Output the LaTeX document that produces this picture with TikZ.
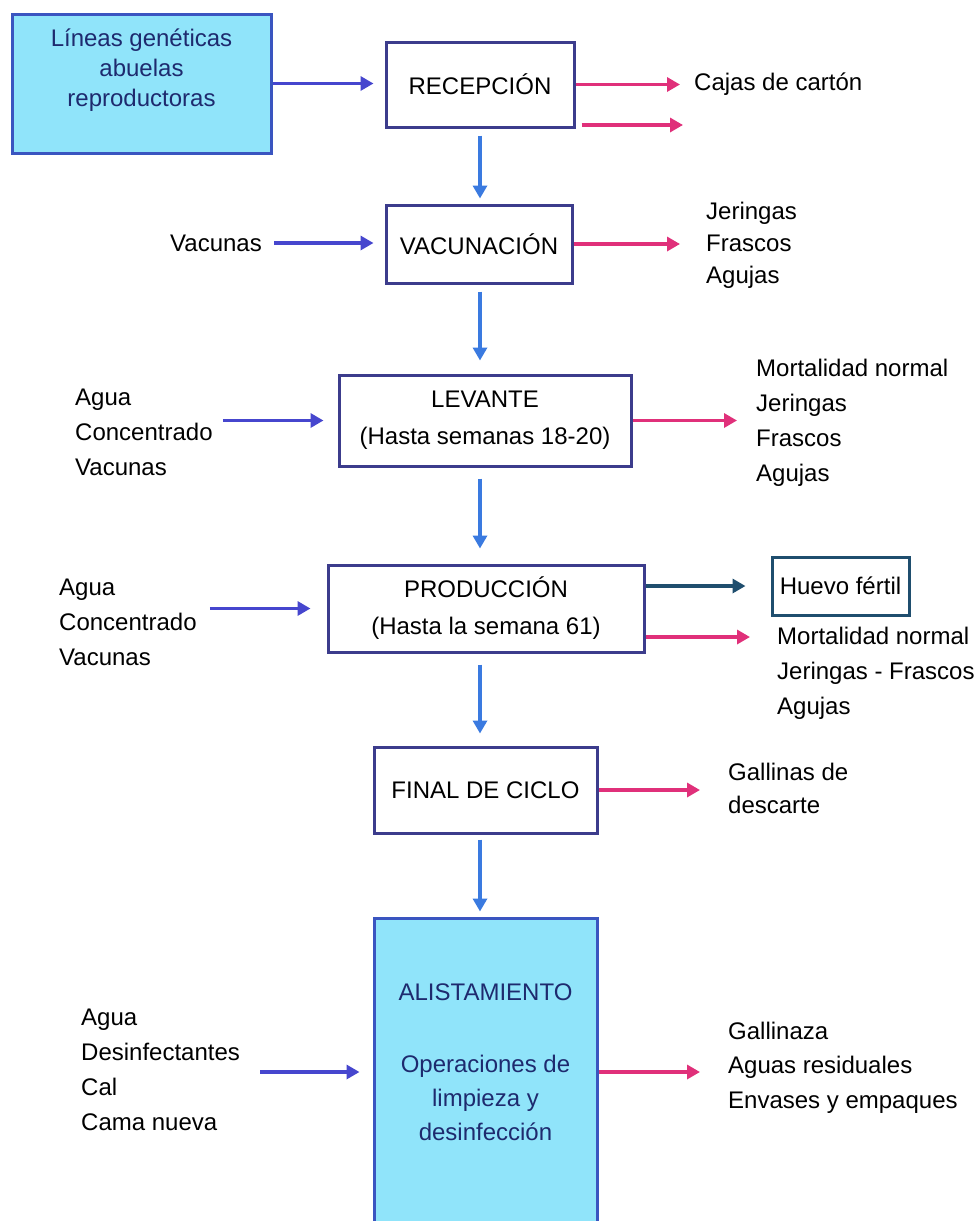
\documentclass[tikz,border=0pt]{standalone}
\usepackage{fontspec}
\setmainfont{Liberation Sans}
\usetikzlibrary{arrows.meta}

\definecolor{cyanfill}{HTML}{90E4FA}
\definecolor{boxline}{HTML}{3C3C8C}
\definecolor{cyanline}{HTML}{3A55C0}
\definecolor{inblue}{HTML}{4646CE}
\definecolor{outpink}{HTML}{E0307A}
\definecolor{downblue}{HTML}{3A7AE0}
\definecolor{eggteal}{HTML}{1F4E6E}
\definecolor{navytext}{HTML}{1E2A6E}

\begin{document}
\begin{tikzpicture}[x=1pt,y=-1pt,
  stepbox/.style={draw=boxline, line width=3pt, fill=white, inner sep=0pt,
    align=center, text=black, font=\fontsize{24}{37}\selectfont},
  cyanbox/.style={draw=cyanline, line width=3pt, fill=cyanfill, inner sep=0pt},
  boxtext/.style={inner sep=0pt, align=center, text=navytext},
  lbl/.style={inner sep=0pt, align=left, anchor=west, text=black,
    font=\fontsize{24}{35}\selectfont},
  tip/.style={-{Triangle[length=13pt,width=14pt]}},
  inarr/.style={tip, draw=inblue, line width=3.4pt},
  outarr/.style={tip, draw=outpink, line width=3.4pt},
  downarr/.style={tip, draw=downblue, line width=3.4pt},
  eggarr/.style={tip, draw=eggteal, line width=3.4pt}]

% page frame
\fill[white] (0,0) rectangle (979,1221);
\useasboundingbox (0,0) rectangle (979,1221);

% process boxes
\node[cyanbox, minimum width=259pt, minimum height=139pt] (lin) at (141.5,83.5) {};
\node[boxtext, font=\fontsize{24}{30}\selectfont] (lintext) at (141.5,70) {Líneas genéticas\\abuelas\\reproductoras};

\node[stepbox, minimum width=188pt, minimum height=85pt] (rec) at (480,84.5) {RECEPCIÓN};
\node[stepbox, minimum width=186pt, minimum height=78pt] (vac) at (479,244) {VACUNACIÓN};
\node[stepbox, minimum width=292pt, minimum height=91pt] (lev) at (485,420.5) {LEVANTE\\(Hasta semanas 18-20)};
\node[stepbox, minimum width=316pt, minimum height=87pt] (pro) at (486,608.5) {PRODUCCIÓN\\(Hasta la semana 61)};
\node[stepbox, minimum width=223pt, minimum height=86pt] (fin) at (485.5,790) {FINAL DE CICLO};
\node[stepbox, draw=eggteal, minimum width=137pt, minimum height=58pt] (egg) at (840.5,586) {Huevo fértil};

\node[cyanbox, minimum width=223pt, minimum height=308pt] (ali) at (485.5,1072) {};
\node[boxtext, font=\fontsize{24}{34}\selectfont] (alitext) at (485.5,1062)
  {ALISTAMIENTO\\[38pt]Operaciones de\\limpieza y\\desinfección};

% inputs and outputs
\node[lbl] (vacin) at (170,243) {Vacunas};
\node[lbl] (recout) at (694,84) {Cajas de cartón};
\node[lbl, font=\fontsize{24}{32}\selectfont] (vacout) at (706,245) {Jeringas\\Frascos\\Agujas};
\node[lbl] (levin) at (75,432) {Agua\\Concentrado\\Vacunas};
\node[lbl] (levout) at (756,422.5) {Mortalidad normal\\Jeringas\\Frascos\\Agujas};
\node[lbl] (proin) at (59,622) {Agua\\Concentrado\\Vacunas};
\node[lbl] (proout) at (777,673) {Mortalidad normal\\Jeringas - Frascos\\Agujas};
\node[lbl, font=\fontsize{24}{33}\selectfont] (finout) at (728,788.5) {Gallinas de\\descarte};
\node[lbl] (aliin) at (81,1070) {Agua\\Desinfectantes\\Cal\\Cama nueva};
\node[lbl, font=\fontsize{24}{34.5}\selectfont] (aliout) at (728,1067.5) {Gallinaza\\Aguas residuales\\Envases y empaques};

\coordinate (recspare) at (683,125);
\coordinate (proarr) at (750,637);

% main flow
\draw[downarr, shorten <=7pt, shorten >=5pt] (rec.south) -- (rec.south |- vac.north);
\draw[downarr, shorten <=7pt, shorten >=13pt] (vac.south -| rec.south) -- (lev.north -| rec.south);
\draw[downarr, shorten <=11pt, shorten >=15pt] (lev.south -| rec.south) -- (pro.north -| rec.south);
\draw[downarr, shorten <=11pt, shorten >=12pt] (pro.south -| rec.south) -- (fin.north -| rec.south);
\draw[downarr, shorten <=5pt, shorten >=5pt] (fin.south -| rec.south) -- (ali.north -| rec.south);

% inputs
\draw[inarr, shorten >=11pt] (lin.east) -- (lin.east -| rec.west);
\draw[inarr, shorten <=12pt, shorten >=11pt] (vacin.east) -- (vacin.east -| vac.west);
\draw[inarr, shorten <=10pt, shorten >=14pt] (levin.east |- lev.west) -- (lev.west);
\draw[inarr, shorten <=13pt, shorten >=16pt] (proin.east |- pro.west) -- (pro.west);
\draw[inarr, shorten <=20pt, shorten >=13pt] (aliin.east |- ali.west) -- (ali.west);

% outputs
\draw[outarr, shorten >=14pt] (rec.east) -- (rec.east -| recout.west);
\draw[outarr, shorten <=6pt] (recspare -| rec.east) -- (recspare);
\draw[outarr, shorten >=26pt] (vac.east) -- (vac.east -| vacout.west);
\draw[outarr, shorten >=19pt] (lev.east) -- (lev.east -| levout.west);
\draw[eggarr, shorten >=25pt] (pro.east |- egg.west) -- (egg.west);
\draw[outarr] (proarr -| pro.east) -- (proarr);
\draw[outarr, shorten >=28pt] (fin.east) -- (fin.east -| finout.west);
\draw[outarr, shorten >=28pt] (ali.east) -- (ali.east -| aliout.west);
\end{tikzpicture}
\end{document}
